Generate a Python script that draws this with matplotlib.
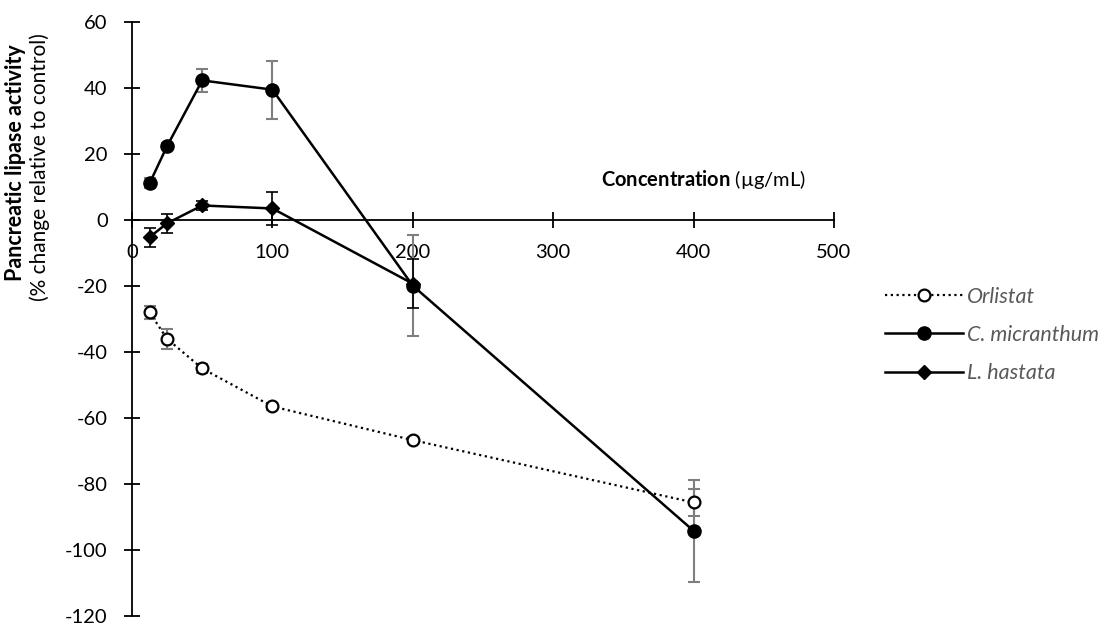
import matplotlib
matplotlib.use("Agg")
import matplotlib.pyplot as plt
from matplotlib.lines import Line2D

plt.rcParams['font.family'] = ['Lato', 'DejaVu Sans']
plt.rcParams['axes.unicode_minus'] = False
plt.rcParams['mathtext.fontset'] = 'custom'
plt.rcParams['mathtext.rm'] = 'Lato'
plt.rcParams['mathtext.bf'] = 'Lato:bold'

# Data
conc = [12.5, 25, 50, 100, 200, 400]
orlistat = [-28.0, -36.0, -45.0, -56.5, -66.7, -85.6]
orlistat_err = [2.0, 3.0, 1.3, 1.0, 1.0, 4.0]
micranthum = [11.1, 22.4, 42.3, 39.5, -19.9, -94.2]
micranthum_err = [1.5, 1.0, 3.6, 8.8, 15.3, 15.5]
hastata_conc = [12.5, 25, 50, 100, 200]
hastata = [-5.2, -1.0, 4.4, 3.5, -19.3]
hastata_err = [2.9, 2.8, 1.5, 5.1, 7.5]

xticks = [0, 100, 200, 300, 400, 500]
yticks = [-120, -100, -80, -60, -40, -20, 0, 20, 40, 60]
labels = ['Orlistat', 'C. micranthum', 'L. hastata']

fig = plt.figure(figsize=(11, 6.28), dpi=100)
ax = fig.add_axes([132/1100, 1-616/628, (834-132)/1100, (616-22)/628])

grey = '#7f7f7f'
ax.errorbar(conc, orlistat, yerr=orlistat_err, fmt='none', ecolor=grey,
            elinewidth=1.5, capsize=4.5, capthick=1.5, zorder=2)
ax.errorbar(conc, micranthum, yerr=micranthum_err, fmt='none', ecolor=grey,
            elinewidth=1.5, capsize=4.5, capthick=1.5, zorder=2)
ax.errorbar(hastata_conc, hastata, yerr=hastata_err, fmt='none', ecolor='black',
            elinewidth=1.2, capsize=4.5, capthick=1.2, zorder=2)

l1, = ax.plot(conc, orlistat, linestyle=(0, (1, 1.6)), color='black', lw=1.6,
              marker='o', ms=8.5, mfc='white', mec='black', mew=1.6, zorder=3)
l2, = ax.plot(conc, micranthum, linestyle='-', color='black', lw=1.8,
              marker='o', ms=9.5, mfc='black', mec='black', zorder=4)
l3, = ax.plot(hastata_conc, hastata, linestyle='-', color='black', lw=1.8,
              marker='D', ms=7.5, mfc='black', mec='black', zorder=3)

ax.set_xlim(0, 500)
ax.set_ylim(-120, 60)
ax.set_xticks(xticks)
ax.set_yticks(yticks)
ax.set_xticklabels([str(v) for v in xticks])
ax.set_yticklabels([str(v) for v in yticks])

for s in ['top', 'right']:
    ax.spines[s].set_visible(False)
ax.spines['left'].set_position(('data', 0))
ax.spines['bottom'].set_position(('data', 0))
for s in ['left', 'bottom']:
    ax.spines[s].set_linewidth(1.3)
ax.tick_params(axis='both', direction='inout', length=11, width=1.3,
               labelsize=14.5, pad=12, colors='black')

fig.text(806/1100, 1-180/628, r'$\mathbf{Concentration}$ (µg/mL)',
         ha='right', va='center', fontsize=14.5)
fig.text(16/1100, 1-163/628, 'Pancreatic lipase activity', rotation=90,
         ha='center', va='center', fontsize=15.5, fontweight='bold')
fig.text(40/1100, 1-167/628, '(% change relative to control)', rotation=90,
         ha='center', va='center', fontsize=15)

h1 = Line2D([], [], linestyle=(0, (1, 1.6)), color='black', lw=1.6, marker='o',
            ms=8.5, mfc='white', mec='black', mew=1.6)
h2 = Line2D([], [], linestyle='-', color='black', lw=1.8, marker='o', ms=9.5,
            mfc='black', mec='black')
h3 = Line2D([], [], linestyle='-', color='black', lw=1.8, marker='D', ms=7.5,
            mfc='black', mec='black')
leg = fig.legend([h1, h2, h3], labels, loc='center left',
                 bbox_to_anchor=(885/1100, 1-335/628), frameon=False,
                 borderpad=0, borderaxespad=0, handlelength=3.6, handletextpad=0.2,
                 labelspacing=0.85, numpoints=1,
                 prop={'style': 'italic', 'size': 15.5})
for t in leg.get_texts():
    t.set_color('#595959')

fig.savefig('out.png', dpi=100)
